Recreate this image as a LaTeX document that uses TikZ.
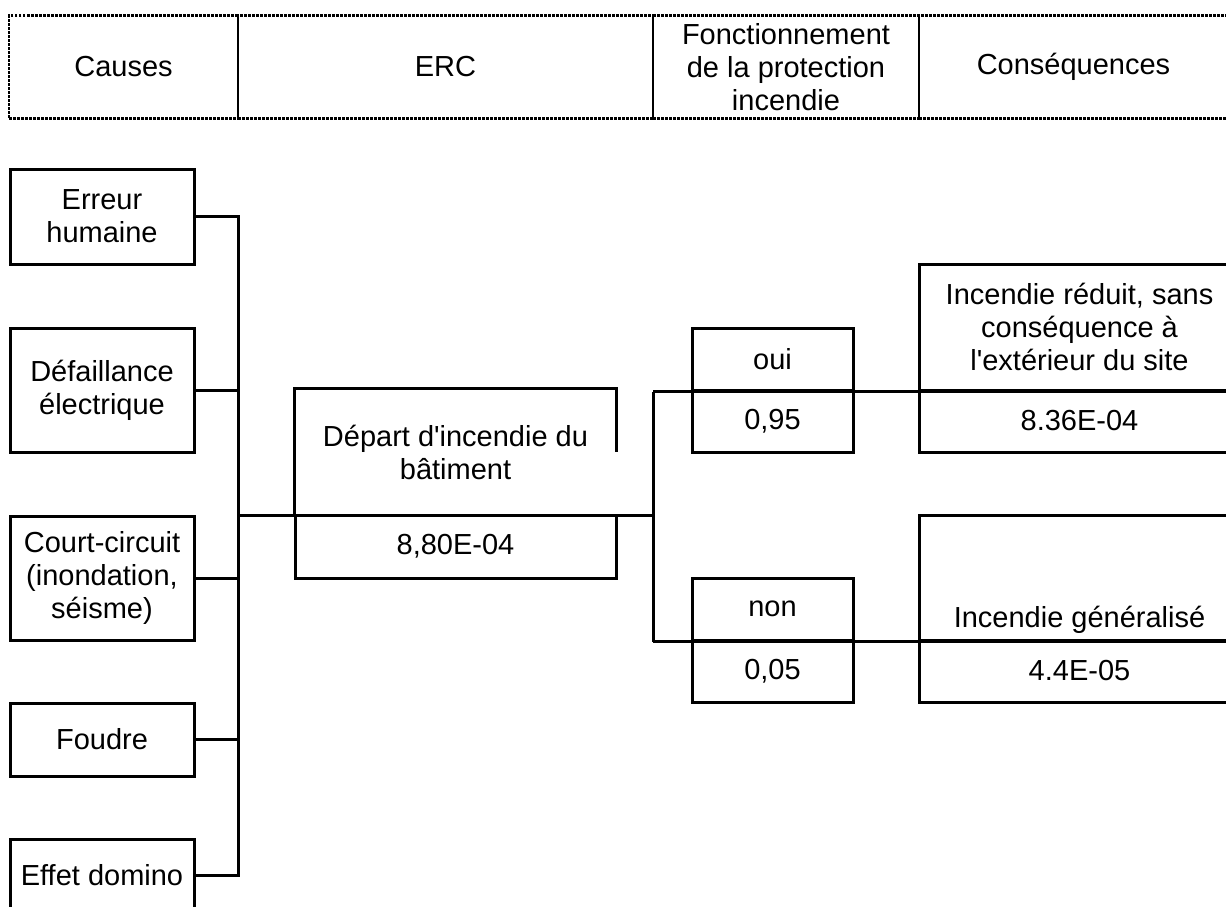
\documentclass[tikz,border=0pt]{standalone}
\usepackage{fontspec}
\setmainfont{Liberation Sans}[Ligatures=TeXOff]
\usetikzlibrary{calc}
\newcommand\diagfont{\fontsize{29}{33}\selectfont}
\begin{document}
\begin{tikzpicture}[x=1pt,y=-1pt,
  every node/.style={font=\diagfont, align=center, inner sep=0pt},
  cell/.style={draw, line width=3pt},
  cause/.style={cell, minimum width=184pt},
  head/.style={draw, line width=2.5pt, dash pattern=on 2.5pt off 1.5pt, minimum height=102.5pt},
  wire/.style={line width=3pt},
  ercbox/.style={minimum width=321pt},
  answer/.style={cell, minimum width=161pt, minimum height=62pt},
  outcome/.style={cell, minimum width=321pt}]
\useasboundingbox (0,0) rectangle (1226,907);
\clip (0,0) rectangle (1226,907);

% column headings
\node[head, minimum width=229pt] (h1) at (123.5,67) {Causes};
\node[head, minimum width=415pt] (h2) at (445.5,67) {ERC};
\node[head, minimum width=266pt] (h3) at (786,67) {Fonctionnement\\de la protection\\incendie};
\node[head, minimum width=309pt] (h4) at (1073.5,67) {Conséquences};

% causes
\node[cause, minimum height=95pt]  (c1) at (102,216.5) {Erreur\\humaine};
\node[cause, minimum height=124pt] (c2) at (102,390) {Défaillance\\électrique};
\node[cause, minimum height=124pt] (c3) at (102,578) {Court-circuit\\(inondation,\\séisme)};
\node[cause, minimum height=73pt]  (c4) at (102,739.5) {Foudre};
\node[cause, minimum height=72pt]  (c5) at (102,875) {\raisebox{-6pt}{Effet domino}};

% collecting bus of the causes
\coordinate (bus) at (238,0);
\draw[wire] (c1.east) -- (c1.east -| bus) -- (c5.east -| bus) -- (c5.east);
\foreach \n in {c2,c3,c4} \draw[wire] (\n.east) -- (\n.east -| bus);

% central event
\node[ercbox, minimum height=126pt] (ercA) at (455.5,452) {Départ d'incendie du\\bâtiment};
\node[cell, ercbox, minimum height=63pt] (ercB) at (455.5,546.5) {8,80E-04};
\draw[wire] (ercA.south west) -- (ercA.north west) -- (ercA.north east) -- ++(0,63);

% branching towards the protection outcome
\coordinate (fork) at (653,0);
\draw[wire] (ercA.south west -| bus) -- (ercA.south east -| fork);

\node[answer] (ouiA) at (772.5,359) {oui};
\node[answer] (ouiB) at (772.5,421) {0,95};
\node[answer] (nonA) at (772.5,609) {non};
\node[answer] (nonB) at (772.5,671) {0,05};

% consequences
\node[outcome, minimum height=126pt] (k1A) at (1079.5,327) {Incendie réduit, sans\\conséquence à\\l'extérieur du site};
\node[outcome, minimum height=62pt]  (k1B) at (1079.5,421) {8.36E-04};
\node[outcome, minimum height=125pt] (k2A) at (1079.5,577.5) {};
\node (k2T) at (1079.5,620) {Incendie généralisé};
\node[outcome, minimum height=62pt]  (k2B) at (1079.5,671) {4.4E-05};

\draw[wire] (ouiA.south -| fork) -- (nonA.south -| fork);
\draw[wire] (ouiA.south -| fork) -- (k1A.south east);
\draw[wire] (nonA.south -| fork) -- (k2A.south east);
\end{tikzpicture}
\end{document}
